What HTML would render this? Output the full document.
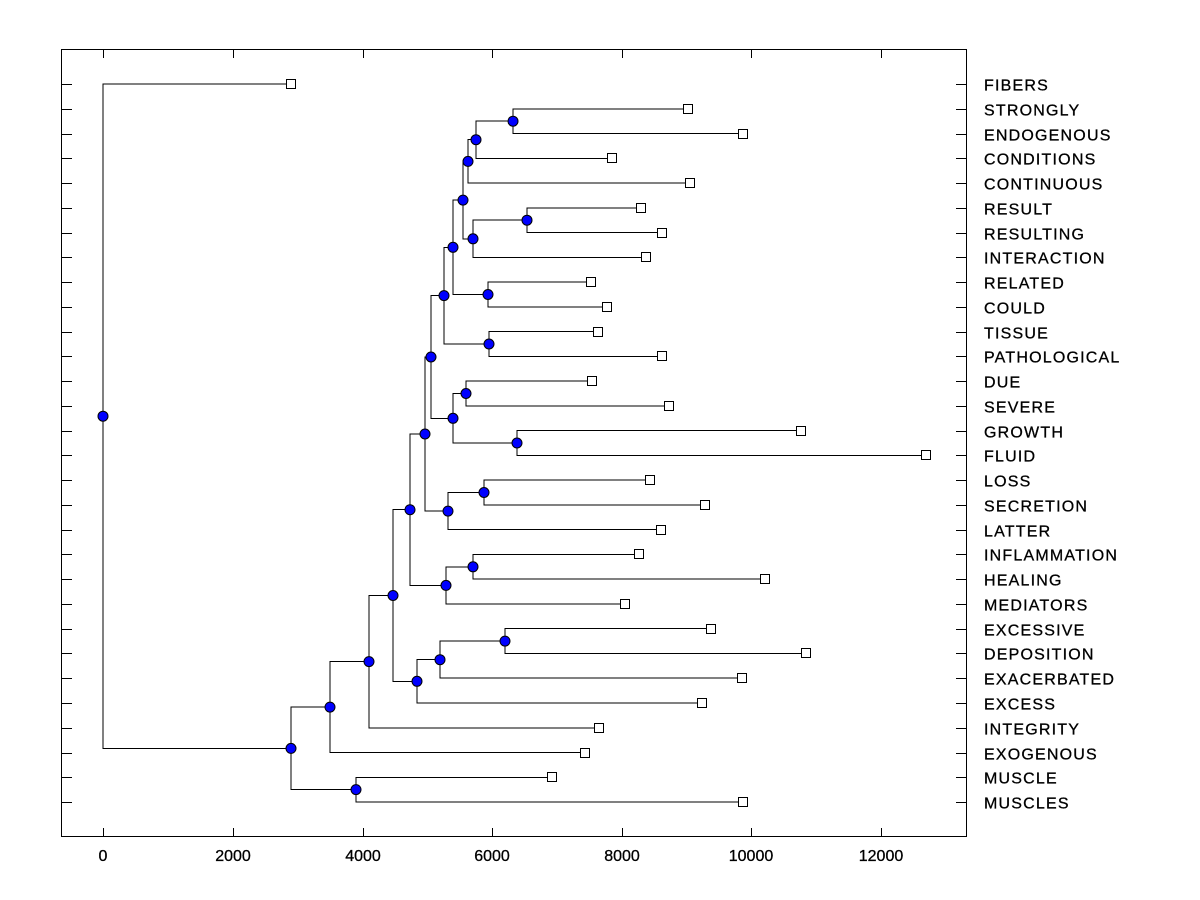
<!DOCTYPE html>
<html><head><style>body{margin:0;background:#fff}svg{display:block}</style></head><body>
<svg width="1200" height="900" xmlns="http://www.w3.org/2000/svg" font-family="Liberation Sans, Arial, sans-serif">
<rect x="0" y="0" width="1200" height="900" fill="#fff"/>
<rect x="61.5" y="49.5" width="905" height="787" fill="none" stroke="#000" stroke-width="1" shape-rendering="crispEdges"/>
<g stroke="#000" stroke-width="1" fill="none" id="ticks" shape-rendering="crispEdges"></g>
<g stroke="#000" stroke-width="1" fill="none" shape-rendering="crispEdges">
<path d="M688 108.8 H513 V133.5 H743"/>
<path d="M513 121.2 H476 V158.3 H612"/>
<path d="M476 139.7 H468 V183 H690"/>
<path d="M641 207.8 H527 V232.6 H662"/>
<path d="M527 220.2 H473 V257.3 H646"/>
<path d="M468 161.4 H463 V238.8 H473"/>
<path d="M591 282.1 H488 V306.8 H607"/>
<path d="M463 200.1 H453 V294.5 H488"/>
<path d="M598 331.6 H489 V356.4 H662"/>
<path d="M453 247.3 H444 V344 H489"/>
<path d="M592 381.1 H466 V405.9 H669"/>
<path d="M801 430.6 H517 V455.4 H926"/>
<path d="M466 393.5 H453 V443 H517"/>
<path d="M444 295.6 H431 V418.3 H453"/>
<path d="M650 480.2 H484 V504.9 H705"/>
<path d="M484 492.5 H448 V529.7 H661"/>
<path d="M431 357 H425 V511.1 H448"/>
<path d="M639 554.4 H473 V579.2 H765"/>
<path d="M473 566.8 H446 V604 H625"/>
<path d="M425 434 H410 V585.4 H446"/>
<path d="M711 628.7 H505 V653.5 H806"/>
<path d="M505 641.1 H440 V678.2 H742"/>
<path d="M440 659.7 H417 V703 H702"/>
<path d="M410 509.7 H393 V681.3 H417"/>
<path d="M393 595.5 H369 V727.8 H599"/>
<path d="M369 661.6 H330 V752.5 H585"/>
<path d="M552 777.3 H356 V802 H743"/>
<path d="M330 707.1 H291 V789.6 H356"/>
<path d="M291 84 H103 V748.4 H291"/>
</g>
<g fill="#0000ff" stroke="#000" stroke-width="1">
<circle cx="513" cy="121.2" r="5"/><circle cx="476" cy="139.7" r="5"/><circle cx="468" cy="161.4" r="5"/>
<circle cx="527" cy="220.2" r="5"/><circle cx="473" cy="238.8" r="5"/><circle cx="463" cy="200.1" r="5"/>
<circle cx="488" cy="294.5" r="5"/><circle cx="453" cy="247.3" r="5"/><circle cx="489" cy="344" r="5"/>
<circle cx="444" cy="295.6" r="5"/><circle cx="466" cy="393.5" r="5"/><circle cx="517" cy="443" r="5"/>
<circle cx="453" cy="418.3" r="5"/><circle cx="431" cy="357" r="5"/><circle cx="484" cy="492.5" r="5"/>
<circle cx="448" cy="511.1" r="5"/><circle cx="425" cy="434" r="5"/><circle cx="473" cy="566.8" r="5"/>
<circle cx="446" cy="585.4" r="5"/><circle cx="410" cy="509.7" r="5"/><circle cx="505" cy="641.1" r="5"/>
<circle cx="440" cy="659.7" r="5"/><circle cx="417" cy="681.3" r="5"/><circle cx="393" cy="595.5" r="5"/>
<circle cx="369" cy="661.6" r="5"/><circle cx="330" cy="707.1" r="5"/><circle cx="356" cy="789.6" r="5"/>
<circle cx="291" cy="748.4" r="5"/><circle cx="103" cy="416.2" r="5"/>
</g>
<g id="leaves" fill="#fff" stroke="#000" stroke-width="1" shape-rendering="crispEdges"></g>
<g id="labels" font-size="16" fill="#000" stroke="#000" stroke-width="0.3" letter-spacing="1.2"></g>
<g font-size="16" fill="#000" stroke="#000" stroke-width="0.3" text-anchor="middle">
<text x="103" y="861">0</text><text x="233" y="861">2000</text><text x="363" y="861">4000</text>
<text x="492" y="861">6000</text><text x="622" y="861">8000</text><text x="751" y="861">10000</text><text x="881" y="861">12000</text>
</g>
<script>
var names=["FIBERS","STRONGLY","ENDOGENOUS","CONDITIONS","CONTINUOUS","RESULT","RESULTING","INTERACTION","RELATED","COULD","TISSUE","PATHOLOGICAL","DUE","SEVERE","GROWTH","FLUID","LOSS","SECRETION","LATTER","INFLAMMATION","HEALING","MEDIATORS","EXCESSIVE","DEPOSITION","EXACERBATED","EXCESS","INTEGRITY","EXOGENOUS","MUSCLE","MUSCLES"];
var xs=[291,688,743,612,690,641,662,646,591,607,598,662,592,669,801,926,650,705,661,639,765,625,711,806,742,702,599,585,552,743];
var ns="http://www.w3.org/2000/svg";
var tk=document.getElementById("ticks"),lv=document.getElementById("leaves"),lb=document.getElementById("labels");
function el(p,t,a){var e=document.createElementNS(ns,t);for(var k in a)e.setAttribute(k,a[k]);p.appendChild(e);return e;}
var d="";
for(var i=0;i<30;i++){var y=Math.round(84+24.76*i)+0.5;d+="M61 "+y+"H72M956 "+y+"H967";
el(lv,"rect",{x:xs[i]-4.5,y:y-5,width:9,height:9});
var t=el(lb,"text",{x:984,y:y+6});t.textContent=names[i];}
[103,233,363,492,622,751,881].forEach(function(x){x+=0.5;d+="M"+x+" 49V58M"+x+" 837V828";});
el(tk,"path",{d:d});
</script>
</svg>
</body></html>
